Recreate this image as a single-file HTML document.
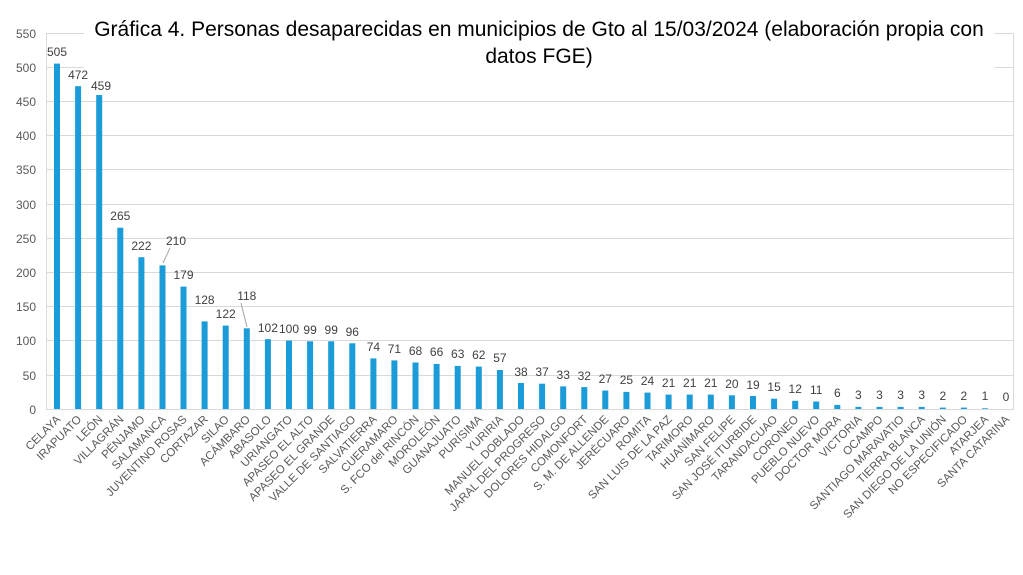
<!DOCTYPE html>
<html><head><meta charset="utf-8"><style>
body{margin:0;background:#fff;}
svg{display:block;font-family:"Liberation Sans",Arial,sans-serif;}
.v{font-size:12px;fill:#404040;text-anchor:middle;}
.y{font-size:12px;fill:#595959;text-anchor:end;}
.l{font-size:11.5px;fill:#595959;text-anchor:end;}
</style></head><body>
<svg width="1023" height="575" viewBox="0 0 1023 575">
<rect width="1023" height="575" fill="#fff"/>
<g stroke="#d9d9d9" stroke-width="1">
<line x1="46" x2="1014" y1="33.5" y2="33.5"/><line x1="46" x2="1014" y1="67.5" y2="67.5"/><line x1="46" x2="1014" y1="101.5" y2="101.5"/><line x1="46" x2="1014" y1="135.5" y2="135.5"/><line x1="46" x2="1014" y1="169.5" y2="169.5"/><line x1="46" x2="1014" y1="204.5" y2="204.5"/><line x1="46" x2="1014" y1="238.5" y2="238.5"/><line x1="46" x2="1014" y1="272.5" y2="272.5"/><line x1="46" x2="1014" y1="306.5" y2="306.5"/><line x1="46" x2="1014" y1="340.5" y2="340.5"/><line x1="46" x2="1014" y1="375.5" y2="375.5"/><line x1="46" x2="1014" y1="409.5" y2="409.5"/>
<line x1="46.5" x2="46.5" y1="33" y2="409"/><line x1="1013.5" x2="1013.5" y1="33" y2="409"/>
</g>
<rect x="84" y="14" width="910" height="56" fill="#fff"/>
<text x="539" y="36" font-size="21" fill="#000" text-anchor="middle">Gráfica 4. Personas desaparecidas en municipios de Gto al 15/03/2024 (elaboración propia con</text>
<text x="539" y="63" font-size="21" fill="#000" text-anchor="middle">datos FGE)</text>
<g class="y">
<text x="36" y="38">550</text><text x="36" y="72">500</text><text x="36" y="106">450</text><text x="36" y="140">400</text><text x="36" y="174">350</text><text x="36" y="209">300</text><text x="36" y="243">250</text><text x="36" y="277">200</text><text x="36" y="311">150</text><text x="36" y="345">100</text><text x="36" y="380">50</text><text x="36" y="414">0</text>
</g>
<g fill="#1b9bd7">
<rect x="54" y="63.6" width="6" height="345.4"/>
<rect x="75.1" y="86.2" width="6" height="322.8"/>
<rect x="96.2" y="95" width="6" height="314"/>
<rect x="117.3" y="227.7" width="6" height="181.3"/>
<rect x="138.4" y="257.2" width="6" height="151.8"/>
<rect x="159.5" y="265.4" width="6" height="143.6"/>
<rect x="180.5" y="286.6" width="6" height="122.4"/>
<rect x="201.6" y="321.4" width="6" height="87.6"/>
<rect x="222.7" y="325.6" width="6" height="83.4"/>
<rect x="243.8" y="328.3" width="6" height="80.7"/>
<rect x="264.9" y="339.2" width="6" height="69.8"/>
<rect x="286" y="340.6" width="6" height="68.4"/>
<rect x="307.1" y="341.3" width="6" height="67.7"/>
<rect x="328.2" y="341.3" width="6" height="67.7"/>
<rect x="349.3" y="343.3" width="6" height="65.7"/>
<rect x="370.4" y="358.4" width="6" height="50.6"/>
<rect x="391.4" y="360.4" width="6" height="48.6"/>
<rect x="412.5" y="362.5" width="6" height="46.5"/>
<rect x="433.6" y="363.9" width="6" height="45.1"/>
<rect x="454.7" y="365.9" width="6" height="43.1"/>
<rect x="475.8" y="366.6" width="6" height="42.4"/>
<rect x="496.9" y="370" width="6" height="39"/>
<rect x="518" y="383" width="6" height="26"/>
<rect x="539.1" y="383.7" width="6" height="25.3"/>
<rect x="560.2" y="386.4" width="6" height="22.6"/>
<rect x="581.3" y="387.1" width="6" height="21.9"/>
<rect x="602.3" y="390.5" width="6" height="18.5"/>
<rect x="623.4" y="391.9" width="6" height="17.1"/>
<rect x="644.5" y="392.6" width="6" height="16.4"/>
<rect x="665.6" y="394.6" width="6" height="14.4"/>
<rect x="686.7" y="394.6" width="6" height="14.4"/>
<rect x="707.8" y="394.6" width="6" height="14.4"/>
<rect x="728.9" y="395.3" width="6" height="13.7"/>
<rect x="750" y="396" width="6" height="13"/>
<rect x="771.1" y="398.7" width="6" height="10.3"/>
<rect x="792.2" y="400.8" width="6" height="8.2"/>
<rect x="813.2" y="401.5" width="6" height="7.5"/>
<rect x="834.3" y="404.9" width="6" height="4.1"/>
<rect x="855.4" y="406.9" width="6" height="2.1"/>
<rect x="876.5" y="406.9" width="6" height="2.1"/>
<rect x="897.6" y="406.9" width="6" height="2.1"/>
<rect x="918.7" y="406.9" width="6" height="2.1"/>
<rect x="939.8" y="407.6" width="6" height="1.4"/>
<rect x="960.9" y="407.6" width="6" height="1.4"/>
<rect x="982" y="408.3" width="6" height="0.7"/>
</g>
<g stroke="#a6a6a6" stroke-width="1" fill="none">
<line x1="163" y1="263" x2="170" y2="248"/>
<line x1="247" y1="327" x2="241" y2="303"/>
</g>
<g class="v">
<text x="57" y="56">505</text><text x="78.1" y="79">472</text><text x="101" y="90">459</text><text x="120.3" y="220">265</text><text x="141.4" y="250">222</text><text x="176" y="245">210</text><text x="183.5" y="279">179</text><text x="204.6" y="304">128</text><text x="225.7" y="318">122</text><text x="246.8" y="300">118</text>
<text x="267.9" y="332">102</text><text x="289" y="333">100</text><text x="310.1" y="334">99</text><text x="331.2" y="334">99</text><text x="352.3" y="336">96</text><text x="373.4" y="351">74</text><text x="394.4" y="353">71</text><text x="415.5" y="355">68</text><text x="436.6" y="356">66</text><text x="457.7" y="358">63</text><text x="478.8" y="359">62</text><text x="499.9" y="362">57</text><text x="521" y="376">38</text><text x="542.1" y="376">37</text><text x="563.2" y="379">33</text><text x="584.3" y="380">32</text><text x="605.3" y="383">27</text><text x="626.4" y="384">25</text><text x="647.5" y="385">24</text><text x="668.6" y="387">21</text><text x="689.7" y="387">21</text><text x="710.8" y="387">21</text><text x="731.9" y="388">20</text><text x="753" y="389">19</text><text x="774.1" y="391">15</text><text x="795.2" y="393">12</text><text x="816.2" y="394">11</text><text x="837.3" y="397">6</text><text x="858.4" y="399">3</text><text x="879.5" y="399">3</text><text x="900.6" y="399">3</text><text x="921.7" y="399">3</text><text x="942.8" y="400">2</text><text x="963.9" y="400">2</text><text x="985" y="400">1</text><text x="1006" y="401">0</text>
</g>
<g class="l">
<text transform="translate(61,420) rotate(-45)">CELAYA</text>
<text transform="translate(82.1,420) rotate(-45)">IRAPUATO</text>
<text transform="translate(103.2,420) rotate(-45)">LEÓN</text>
<text transform="translate(124.3,420) rotate(-45)">VILLAGRÁN</text>
<text transform="translate(145.4,420) rotate(-45)">PÉNJAMO</text>
<text transform="translate(166.5,420) rotate(-45)">SALAMANCA</text>
<text transform="translate(187.5,420) rotate(-45)">JUVENTINO ROSAS</text>
<text transform="translate(208.6,420) rotate(-45)">CORTAZAR</text>
<text transform="translate(229.7,420) rotate(-45)">SILAO</text>
<text transform="translate(250.8,420) rotate(-45)">ACÁMBARO</text>
<text transform="translate(271.9,420) rotate(-45)">ABASOLO</text>
<text transform="translate(293,420) rotate(-45)">URIANGATO</text>
<text transform="translate(314.1,420) rotate(-45)">APASEO EL ALTO</text>
<text transform="translate(335.2,420) rotate(-45)">APASEO EL GRANDE</text>
<text transform="translate(356.3,420) rotate(-45)">VALLE DE SANTIAGO</text>
<text transform="translate(377.4,420) rotate(-45)">SALVATIERRA</text>
<text transform="translate(398.4,420) rotate(-45)">CUERAMARO</text>
<text transform="translate(419.5,420) rotate(-45)">S. FCO del RINCÓN</text>
<text transform="translate(440.6,420) rotate(-45)">MOROLEÓN</text>
<text transform="translate(461.7,420) rotate(-45)">GUANAJUATO</text>
<text transform="translate(482.8,420) rotate(-45)">PURÍSIMA</text>
<text transform="translate(503.9,420) rotate(-45)">YURIRIA</text>
<text transform="translate(525,420) rotate(-45)">MANUEL DOBLADO</text>
<text transform="translate(546.1,420) rotate(-45)">JARAL DEL PROGRESO</text>
<text transform="translate(567.2,420) rotate(-45)">DOLORES HIDALGO</text>
<text transform="translate(588.3,420) rotate(-45)">COMONFORT</text>
<text transform="translate(609.3,420) rotate(-45)">S. M. DE ALLENDE</text>
<text transform="translate(630.4,420) rotate(-45)">JERÉCUARO</text>
<text transform="translate(651.5,420) rotate(-45)">ROMITA</text>
<text transform="translate(672.6,420) rotate(-45)">SAN LUIS DE LA PAZ</text>
<text transform="translate(693.7,420) rotate(-45)">TARIMORO</text>
<text transform="translate(714.8,420) rotate(-45)">HUANÍMARO</text>
<text transform="translate(735.9,420) rotate(-45)">SAN FELIPE</text>
<text transform="translate(757,420) rotate(-45)">SAN JOSÉ ITURBIDE</text>
<text transform="translate(778.1,420) rotate(-45)">TARANDACUAO</text>
<text transform="translate(799.2,420) rotate(-45)">CORONEO</text>
<text transform="translate(820.2,420) rotate(-45)">PUEBLO NUEVO</text>
<text transform="translate(841.3,420) rotate(-45)">DOCTOR MORA</text>
<text transform="translate(862.4,420) rotate(-45)">VICTORIA</text>
<text transform="translate(883.5,420) rotate(-45)">OCAMPO</text>
<text transform="translate(904.6,420) rotate(-45)">SANTIAGO MARAVATIO</text>
<text transform="translate(925.7,420) rotate(-45)">TIERRA BLANCA</text>
<text transform="translate(946.8,420) rotate(-45)">SAN DIEGO DE LA UNIÓN</text>
<text transform="translate(967.9,420) rotate(-45)">NO ESPECIFICADO</text>
<text transform="translate(989,420) rotate(-45)">ATARJEA</text>
<text transform="translate(1010,420) rotate(-45)">SANTA CATARINA</text>
</g>
</svg>
</body></html>
